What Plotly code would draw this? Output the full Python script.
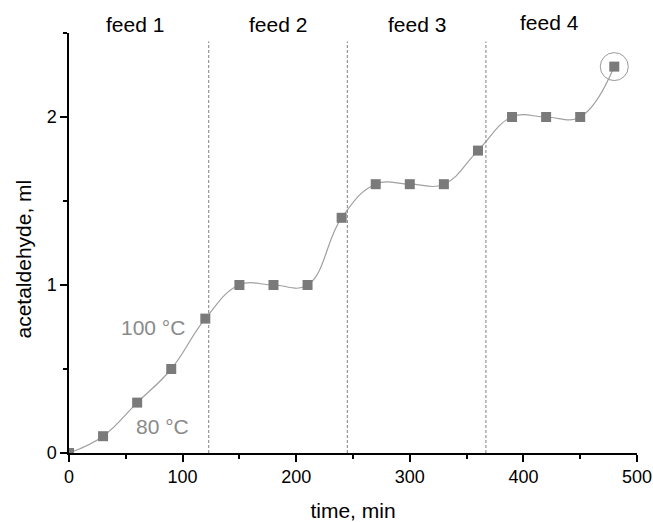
import plotly.graph_objects as go

time_min = [0, 30, 60, 90, 120, 150, 180, 210, 240, 270, 300, 330, 360, 390, 420, 450, 480]
acetaldehyde_ml = [0, 0.1, 0.3, 0.5, 0.8, 1.0, 1.0, 1.0, 1.4, 1.6, 1.6, 1.6, 1.8, 2.0, 2.0, 2.0, 2.3]
feed_boundaries = [123, 245, 367]
feed_labels = ["feed 1", "feed 2", "feed 3", "feed 4"]
feed_label_x = [58, 184, 306, 423]
temp_labels = ["100 °C", "80 °C"]
temp_label_x = [74, 82]
temp_label_y = [0.745, 0.157]

FONT = "Liberation Sans, Arial, sans-serif"

fig = go.Figure()
fig.add_trace(go.Scatter(
    x=time_min, y=acetaldehyde_ml, mode="lines",
    line=dict(shape="spline", smoothing=1.2, color="#a0a0a0", width=1.2),
    hoverinfo="skip", showlegend=False))
fig.add_trace(go.Scatter(
    x=time_min, y=acetaldehyde_ml, mode="markers",
    marker=dict(symbol="square", size=10, color="#7a7a7a", line=dict(width=0)),
    showlegend=False))

for xb in feed_boundaries:
    fig.add_shape(type="line", x0=xb, x1=xb, y0=0, y1=2.45, xref="x", yref="y",
                  line=dict(color="#808080", width=1, dash="3px,2px"))

# circle around last point
fig.add_shape(type="circle", xref="x", yref="y",
              xsizemode="pixel", ysizemode="pixel",
              xanchor=time_min[-1], yanchor=acetaldehyde_ml[-1],
              x0=-14, x1=14, y0=-14, y1=14,
              line=dict(color="#999999", width=1))

for i, (lbl, lx) in enumerate(zip(feed_labels, feed_label_x)):
    fig.add_annotation(x=lx, y=1.026 if i == 3 else 1.021, xref="x", yref="paper",
                       text=lbl, showarrow=False,
                       font=dict(family=FONT, size=21, color="black"), yanchor="middle")
for lbl, lx, ly in zip(temp_labels, temp_label_x, temp_label_y):
    fig.add_annotation(x=lx, y=ly, text=lbl, showarrow=False,
                       font=dict(family=FONT, size=21, color="#8a8a8a"), yanchor="middle")

# y axis title
fig.add_annotation(x=-0.080, y=0.462, xref="paper", yref="paper", text="acetaldehyde, ml",
                   textangle=-90, showarrow=False, font=dict(family=FONT, size=21, color="black"),
                   xanchor="center", yanchor="middle")

fig.update_layout(
    width=653, height=522,
    margin=dict(l=69, r=16, t=33, b=69, autoexpand=False),
    plot_bgcolor="white", paper_bgcolor="white",
    font=dict(family=FONT, size=18, color="black"),
    xaxis=dict(range=[0, 500], tickvals=[0, 100, 200, 300, 400, 500], automargin=False,
               ticks="outside", ticklen=7, tickwidth=1.5, tickcolor="black",
               minor=dict(tickvals=[50, 150, 250, 350, 450], ticks="outside", ticklen=4, tickwidth=1.5, tickcolor="black"),
               showline=True, linecolor="black", linewidth=1.5, showgrid=False, zeroline=False,
               title=dict(text="time, min", font=dict(size=21), standoff=19),
               tickfont=dict(size=18)),
    yaxis=dict(range=[0, 2.5], tickvals=[0, 1, 2], automargin=False,
               ticks="outside", ticklen=7, tickwidth=1.5, tickcolor="black",
               minor=dict(tickvals=[0.5, 1.5, 2.5], ticks="outside", ticklen=4, tickwidth=1.5, tickcolor="black"),
               showline=True, linecolor="black", linewidth=1.5, showgrid=False, zeroline=False,
               tickfont=dict(size=18)),
)
fig.write_html("out.html", config={"displayModeBar": False},
               post_script="document.body.style.margin='0';document.body.style.overflow='hidden';")
